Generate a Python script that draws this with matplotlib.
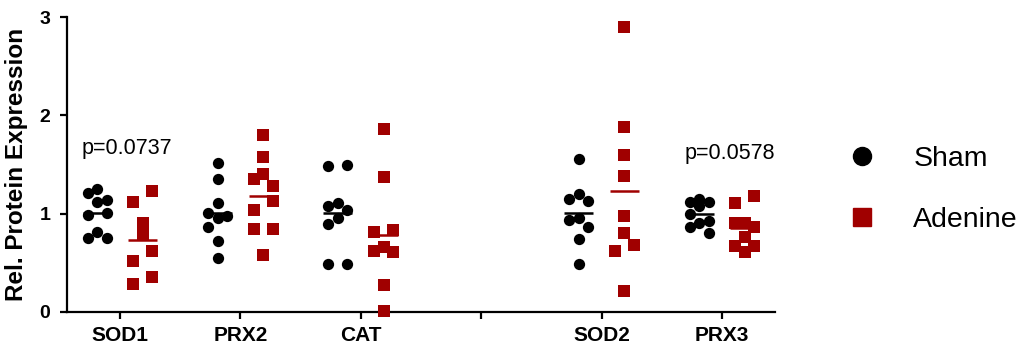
import numpy as np
import matplotlib
matplotlib.use("Agg")
import matplotlib.pyplot as plt
from matplotlib.lines import Line2D

plt.rcParams['font.family'] = ['Liberation Sans', 'DejaVu Sans']

# ---- data ----
tick_labels = ['SOD1', 'PRX2', 'CAT', '', 'SOD2', 'PRX3']
proteins = ['SOD1', 'PRX2', 'CAT', 'SOD2', 'PRX3']

sod1_sham = [1.25, 1.21, 1.12, 1.14, 1.01, 0.99, 0.75, 0.81, 0.75]
sod1_adenine = [1.23, 1.12, 0.91, 0.79, 0.62, 0.52, 0.36, 0.28]
prx2_sham = [1.52, 1.35, 1.11, 0.98, 1.01, 0.96, 0.86, 0.72, 0.55]
prx2_adenine = [1.80, 1.58, 1.35, 1.40, 1.28, 1.13, 1.04, 0.84, 0.84, 0.58]
cat_sham = [1.48, 1.50, 1.11, 1.08, 1.04, 0.96, 0.89, 0.49, 0.49]
cat_adenine = [1.86, 1.37, 0.81, 0.83, 0.66, 0.61, 0.62, 0.27, 0.01]
sod2_sham = [1.56, 1.20, 1.13, 1.15, 0.96, 0.94, 0.86, 0.74, 0.49]
sod2_adenine = [2.90, 1.88, 1.60, 1.38, 0.98, 0.80, 0.68, 0.62, 0.21]
prx3_sham = [1.12, 1.15, 1.12, 1.08, 1.00, 0.93, 0.91, 0.86, 0.80]
prx3_adenine = [1.18, 1.11, 0.91, 0.91, 0.86, 0.76, 0.67, 0.67, 0.61]

sham_series = [sod1_sham, prx2_sham, cat_sham, sod2_sham, prx3_sham]
adenine_series = [sod1_adenine, prx2_adenine, cat_adenine, sod2_adenine, prx3_adenine]

p_labels = ['p=0.0737', 'p=0.0578']

# ---- style ----
SHAM_C = 'black'
ADEN_C = '#A00000'
GROUP_OFF = 0.19
HALF_W = 0.12

fig = plt.figure(figsize=(10.23, 3.51), dpi=100)
ax = fig.add_axes([67/1023, 1-312/351, (775-67)/1023, (312-17)/351])
ax.set_xlim(-0.44, 5.44)
ax.set_ylim(0, 3)

px_per_x = (775-67)/(5.44+0.44)
STEP = 9.5 / px_per_x  # column step in data units


def scatter_offsets(values, thresh):
    """Prism-like spreading: chains of close values are fanned out into columns."""
    vals = np.asarray(values, dtype=float)
    order = np.argsort(-vals, kind='stable')
    clusters = [[order[0]]]
    for a, b in zip(order[:-1], order[1:]):
        if vals[a] - vals[b] < thresh:
            clusters[-1].append(b)
        else:
            clusters.append([b])
    offs = np.zeros(len(vals))
    for cl in clusters:
        if len(cl) == 1:
            cols = [0]
        elif len(cl) == 2:
            cols = [1, -1]
        else:
            cycle = [0, -1, 1]
            cols = [cycle[i % 3] for i in range(len(cl))]
        for idx, c in zip(cl, cols):
            offs[idx] = c * STEP
    return offs


pos_map = {lab: i for i, lab in enumerate(tick_labels) if lab}

for prot, sh, ad in zip(proteins, sham_series, adenine_series):
    xc = pos_map[prot]
    xs = xc - GROUP_OFF + scatter_offsets(sh, 0.105)
    ax.scatter(xs, sh, s=66, marker='o', color=SHAM_C, linewidths=0, zorder=3, clip_on=False)
    xa = xc + GROUP_OFF + scatter_offsets(ad, 0.115)
    ax.scatter(xa, ad, s=76, marker='s', color=ADEN_C, linewidths=0, zorder=3, clip_on=False)
    ax.hlines(np.mean(sh), xc-GROUP_OFF-HALF_W, xc-GROUP_OFF+HALF_W, color=SHAM_C, lw=1.8, zorder=4)
    ax.hlines(np.mean(ad), xc+GROUP_OFF-HALF_W, xc+GROUP_OFF+HALF_W, color=ADEN_C, lw=1.8, zorder=4)

ax.text(-0.316, 1.61, p_labels[0], fontsize=15.5, ha='left', va='baseline')
ax.text(4.69, 1.56, p_labels[1], fontsize=15.5, ha='left', va='baseline')

ax.set_xticks(range(len(tick_labels)))
ax.set_xticklabels(tick_labels, fontsize=15, fontweight='bold')
ax.set_yticks([0, 1, 2, 3])
ax.set_yticklabels(['0', '1', '2', '3'], fontsize=14, fontweight='bold')
ax.set_ylabel('Rel. Protein Expression', fontsize=17.5, fontweight='bold', labelpad=8)

for s in ['top', 'right']:
    ax.spines[s].set_visible(False)
for s in ['left', 'bottom']:
    ax.spines[s].set_linewidth(1.6)
ax.tick_params(axis='both', width=1.6, length=5, direction='out')
ax.tick_params(axis='x', pad=5)
ax.tick_params(axis='y', pad=7)

handles = [
    Line2D([], [], marker='o', color=SHAM_C, linestyle='none', markersize=13),
    Line2D([], [], marker='s', color=ADEN_C, linestyle='none', markersize=13),
]
fig.legend(handles, ['Sham', 'Adenine'], loc='upper left',
           bbox_to_anchor=(848/1023, 1-145.5/351), frameon=False, fontsize=20.5,
           handlelength=1.0, handletextpad=1.29, labelspacing=1.25,
           borderpad=0, borderaxespad=0)

fig.savefig('out.png', dpi=100)
